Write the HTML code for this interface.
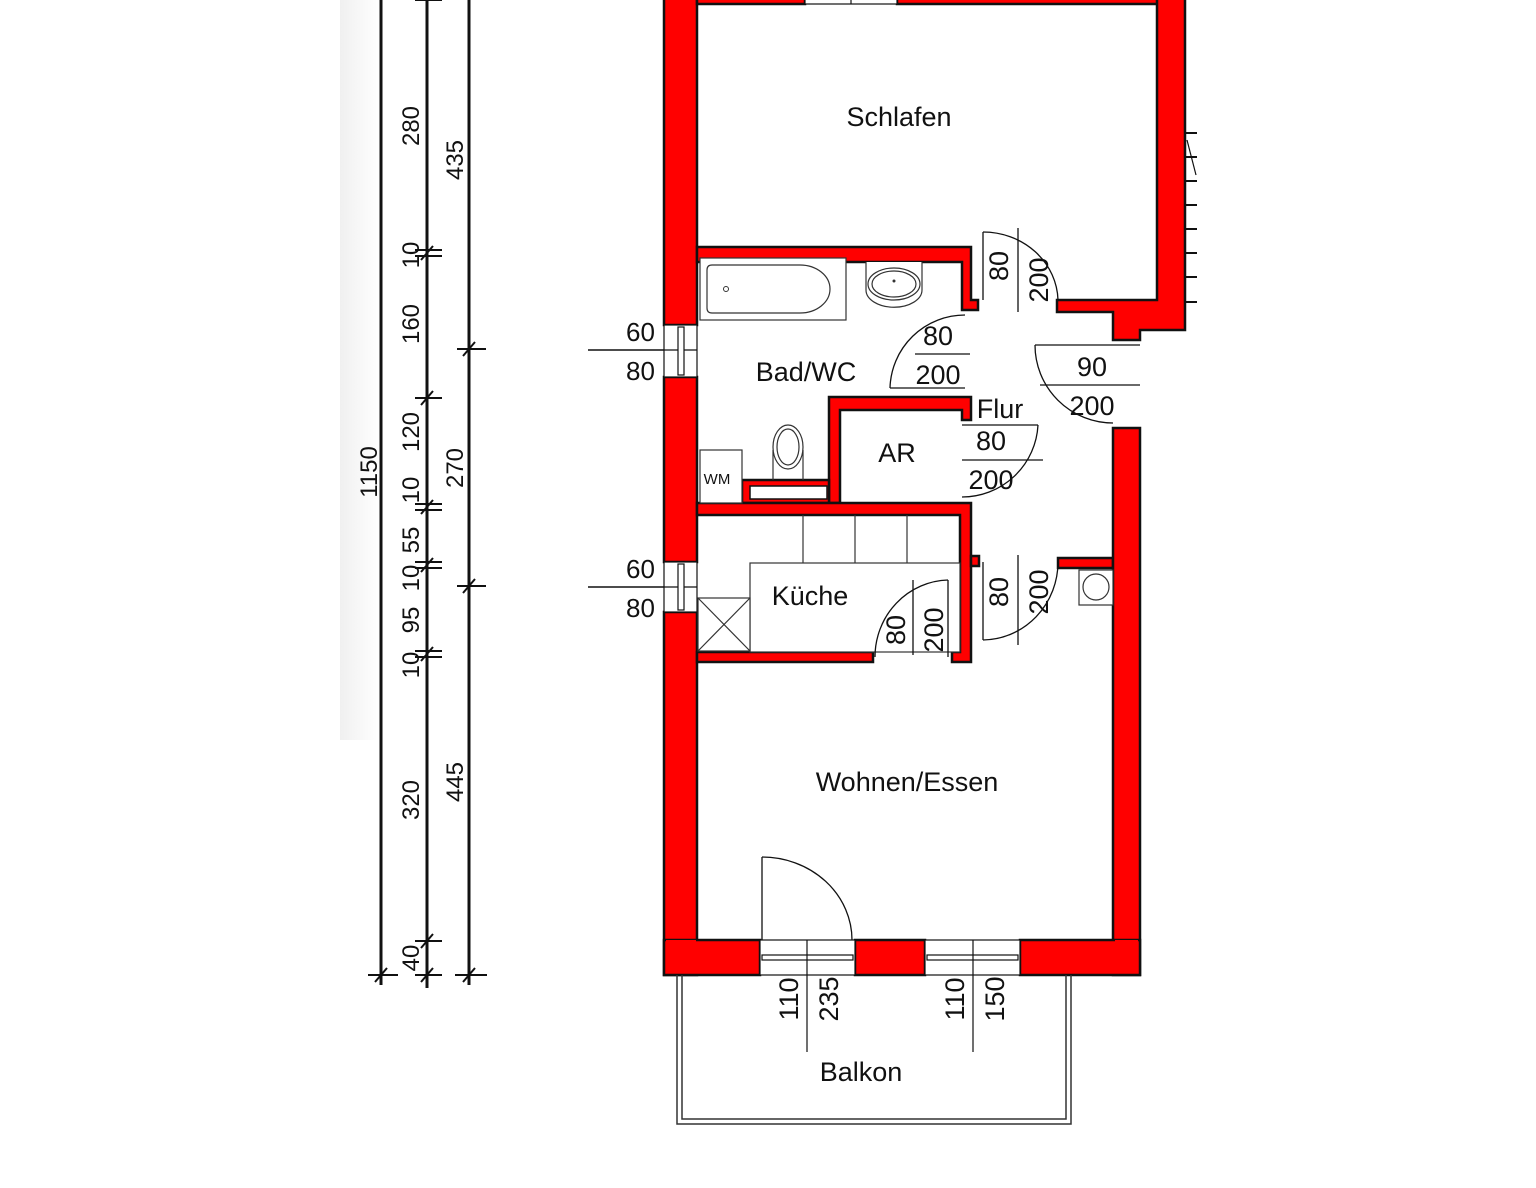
<!DOCTYPE html>
<html><head><meta charset="utf-8"><style>
html,body{margin:0;padding:0;background:#fff;}
svg{display:block;}
text{font-family:"Liberation Sans",sans-serif;fill:#111;}
</style></head><body>
<svg width="1536" height="1188" viewBox="0 0 1536 1188" xmlns="http://www.w3.org/2000/svg">
<defs><linearGradient id="g" x1="0" x2="1" y1="0" y2="0"><stop offset="0" stop-color="#f0f0f0"/><stop offset="1" stop-color="#fff"/></linearGradient></defs>
<rect width="1536" height="1188" fill="#fff"/>
<rect x="340" y="0" width="40" height="740" fill="url(#g)"/>

<!-- dimension lines -->
<g stroke="#111" stroke-width="3" fill="none">
<line x1="381" y1="0" x2="381" y2="985"/>
<line x1="427" y1="0" x2="427" y2="988"/>
<line x1="469" y1="0" x2="469" y2="985"/>
</g>
<g stroke="#111" stroke-width="2">
<line x1="368" y1="975" x2="398" y2="975"/><line x1="375" y1="982" x2="387" y2="968"/>
<line x1="455" y1="975" x2="487" y2="975"/><line x1="463" y1="982" x2="475" y2="968"/>
<line x1="415" y1="975" x2="442" y2="975"/><line x1="421" y1="982" x2="433" y2="968"/>
<line x1="415" y1="941" x2="442" y2="941"/><line x1="421" y1="948" x2="433" y2="934"/>
<line x1="415" y1="0" x2="442" y2="0"/>
<line x1="415" y1="250" x2="442" y2="250"/><line x1="415" y1="256" x2="442" y2="256"/><line x1="421" y1="260" x2="433" y2="246"/>
<line x1="415" y1="398" x2="442" y2="398"/><line x1="421" y1="405" x2="433" y2="391"/>
<line x1="415" y1="504" x2="442" y2="504"/><line x1="415" y1="510" x2="442" y2="510"/><line x1="421" y1="514" x2="433" y2="500"/>
<line x1="415" y1="562" x2="442" y2="562"/><line x1="415" y1="568" x2="442" y2="568"/><line x1="421" y1="572" x2="433" y2="558"/>
<line x1="415" y1="651" x2="442" y2="651"/><line x1="415" y1="657" x2="442" y2="657"/><line x1="421" y1="661" x2="433" y2="647"/>
<line x1="457" y1="349" x2="486" y2="349"/><line x1="463" y1="356" x2="475" y2="342"/>
<line x1="457" y1="586" x2="486" y2="586"/><line x1="463" y1="593" x2="475" y2="579"/>
</g>
<g font-size="24">
<text transform="translate(377,472) rotate(-90)" text-anchor="middle">1150</text>
<text transform="translate(419,126) rotate(-90)" text-anchor="middle">280</text>
<text transform="translate(419,255) rotate(-90)" text-anchor="middle">10</text>
<text transform="translate(419,324) rotate(-90)" text-anchor="middle">160</text>
<text transform="translate(419,432) rotate(-90)" text-anchor="middle">120</text>
<text transform="translate(419,490) rotate(-90)" text-anchor="middle">10</text>
<text transform="translate(419,540) rotate(-90)" text-anchor="middle">55</text>
<text transform="translate(419,578) rotate(-90)" text-anchor="middle">10</text>
<text transform="translate(419,620) rotate(-90)" text-anchor="middle">95</text>
<text transform="translate(419,665) rotate(-90)" text-anchor="middle">10</text>
<text transform="translate(419,800) rotate(-90)" text-anchor="middle">320</text>
<text transform="translate(419,958) rotate(-90)" text-anchor="middle">40</text>
<text transform="translate(463,160) rotate(-90)" text-anchor="middle">435</text>
<text transform="translate(463,468) rotate(-90)" text-anchor="middle">270</text>
<text transform="translate(463,782) rotate(-90)" text-anchor="middle">445</text>
</g>

<!-- left window dims -->
<g stroke="#111" stroke-width="1.5">
<line x1="588" y1="350" x2="665" y2="350"/>
<line x1="588" y1="587" x2="665" y2="587"/>
</g>
<g font-size="26">
<text x="626" y="341">60</text><text x="626" y="380">80</text>
<text x="626" y="578">60</text><text x="626" y="617">80</text>
</g>

<!-- walls -->
<g fill="#ff0000" stroke="#111" stroke-width="2.5">
<rect x="664" y="-5" width="33" height="330"/>
<rect x="664" y="377" width="33" height="185"/>
<rect x="664" y="612" width="33" height="363"/>
<rect x="697" y="-5" width="108" height="9"/>
<rect x="897" y="-5" width="262" height="9"/>
<path d="M1157,-5 L1185,-5 L1185,330 L1140,330 L1140,340 L1113,340 L1113,312 L1057,312 L1057,300 L1157,300 Z"/>
<path d="M697,247 L971,247 L971,300 L978,300 L978,310 L962,310 L962,262 L697,262 Z"/>
<path d="M829,397 L971,397 L971,420 L962,420 L962,410 L840,410 L840,503 L829,503 Z"/>
<path d="M742,480 L829,480 L829,503 L742,503 Z"/>
<path d="M697,503 L971,503 L971,662 L952,662 L952,652 L960,652 L960,515 L697,515 Z"/>
<rect x="697" y="652" width="176" height="10"/>
<rect x="971" y="556" width="8" height="10"/>
<rect x="1058" y="558" width="55" height="10"/>
<rect x="1113" y="428" width="27" height="547"/>
<path d="M664,940 L760,940 L760,975 L664,975 Z"/>
<rect x="855" y="940" width="70" height="35"/>
<rect x="1020" y="940" width="120" height="35"/>
</g>
<rect x="666" y="940" width="30" height="33" fill="#ff0000"/>
<rect x="1115" y="940" width="23" height="33" fill="#ff0000"/>
<rect x="1115" y="305" width="23" height="10" fill="#ff0000"/>
<rect x="1159" y="298" width="24" height="16" fill="#ff0000"/>
<rect x="744" y="484" width="83" height="14" fill="#ff0000"/>
<rect x="750" y="486" width="77" height="13" fill="#fff" stroke="#111" stroke-width="1.5"/>

<!-- windows -->
<g fill="#fff" stroke="#111" stroke-width="1.2">
<rect x="664" y="325" width="33" height="52"/>
<line x1="664" y1="350" x2="697" y2="350"/>
<rect x="678" y="327" width="6" height="48"/>
<rect x="664" y="562" width="33" height="50"/>
<line x1="664" y1="587" x2="697" y2="587"/>
<rect x="678" y="564" width="6" height="46"/>
<rect x="805" y="-5" width="92" height="9"/>
<line x1="851" y1="-5" x2="851" y2="4"/>
<rect x="760" y="940" width="95" height="35"/>
<rect x="762" y="955" width="91" height="5"/>
<line x1="807" y1="940" x2="807" y2="1052"/>
<rect x="925" y="940" width="95" height="35"/>
<rect x="927" y="955" width="91" height="5"/>
<line x1="973" y1="940" x2="973" y2="1052"/>
</g>

<!-- right ticks -->
<g stroke="#111" stroke-width="2">
<line x1="1185" y1="133" x2="1197" y2="133"/><line x1="1185" y1="157" x2="1197" y2="157"/>
<line x1="1185" y1="181" x2="1197" y2="181"/><line x1="1185" y1="205" x2="1197" y2="205"/>
<line x1="1185" y1="229" x2="1197" y2="229"/><line x1="1185" y1="253" x2="1197" y2="253"/>
<line x1="1185" y1="277" x2="1197" y2="277"/><line x1="1185" y1="302" x2="1197" y2="302"/>
</g>
<path d="M1187,140 L1196,175" stroke="#111" stroke-width="1.2" fill="none"/>

<!-- fixtures -->
<g stroke="#333" stroke-width="1.2" fill="#fff">
<rect x="700" y="258" width="146" height="62"/>
<path d="M712,265 L800,265 A30,24 0 0 1 800,313 L712,313 Q707,313 707,308 L707,270 Q707,265 712,265 Z"/>
<path d="M866,262 L866,290 A26,16 0 0 0 922,290 L922,262"/>
<ellipse cx="894" cy="284" rx="26" ry="16"/>
<ellipse cx="894" cy="284" rx="22" ry="13"/>
<ellipse cx="788" cy="447" rx="15" ry="22"/>
<ellipse cx="788" cy="447" rx="11" ry="18"/>
<path d="M773,450 L773,480 M803,450 L803,480" fill="none"/>
<rect x="700" y="450" width="42" height="53"/>
<rect x="750" y="563" width="210" height="89"/>
<line x1="803" y1="515" x2="803" y2="563"/>
<line x1="855" y1="515" x2="855" y2="563"/>
<line x1="907" y1="515" x2="907" y2="563"/>
<rect x="698" y="598" width="52" height="53"/>
<line x1="698" y1="598" x2="750" y2="651"/>
<line x1="750" y1="598" x2="698" y2="651"/>
<rect x="1079" y="570" width="34" height="35"/>
<circle cx="1096" cy="587" r="13"/>
</g>
<circle cx="726" cy="289" r="2.5" fill="none" stroke="#333"/>
<circle cx="894" cy="281" r="1.5" fill="#333"/>

<!-- doors -->
<g stroke="#111" stroke-width="1.3" fill="none">
<line x1="983" y1="232" x2="983" y2="300"/>
<path d="M983,232 A75,70 0 0 1 1058,300"/>
<line x1="1018" y1="228" x2="1018" y2="312"/>
<line x1="890" y1="388" x2="965" y2="388"/>
<path d="M890,388 A75,75 0 0 1 965,315"/>
<line x1="915" y1="354" x2="970" y2="354"/>
<line x1="1035" y1="345" x2="1140" y2="345"/>
<path d="M1035,345 A78,78 0 0 0 1113,423"/>
<line x1="1040" y1="385" x2="1140" y2="385"/>
<line x1="962" y1="425" x2="1038" y2="425"/>
<path d="M1038,425 A76,76 0 0 1 962,497"/>
<line x1="962" y1="460" x2="1043" y2="460"/>
<line x1="983" y1="562" x2="983" y2="640"/>
<path d="M983,640 A76,78 0 0 0 1058,562"/>
<line x1="1018" y1="555" x2="1018" y2="645"/>
<line x1="948" y1="580" x2="948" y2="657"/>
<path d="M948,580 A75,77 0 0 0 875,657"/>
<line x1="913" y1="580" x2="913" y2="655"/>
<line x1="762" y1="857" x2="762" y2="940"/>
<path d="M762,857 A90,83 0 0 1 852,940"/>
</g>

<!-- balcony -->
<g stroke="#333" stroke-width="1.5" fill="none">
<path d="M677,975 L677,1124 L1071,1124 L1071,975"/>
<path d="M682,975 L682,1119 L1066,1119 L1066,975"/>
</g>

<!-- labels -->
<g font-size="27">
<text x="899" y="126" text-anchor="middle">Schlafen</text>
<text x="806" y="381" text-anchor="middle">Bad/WC</text>
<text x="1000" y="418" text-anchor="middle">Flur</text>
<text x="897" y="462" text-anchor="middle">AR</text>
<text x="810" y="605" text-anchor="middle">Küche</text>
<text x="907" y="791" text-anchor="middle">Wohnen/Essen</text>
<text x="861" y="1081" text-anchor="middle">Balkon</text>
</g>
<text x="717" y="484" font-size="15" text-anchor="middle">WM</text>
<g font-size="27">
<text x="938" y="345" text-anchor="middle">80</text>
<text x="938" y="384" text-anchor="middle">200</text>
<text x="1092" y="376" text-anchor="middle">90</text>
<text x="1092" y="415" text-anchor="middle">200</text>
<text x="991" y="450" text-anchor="middle">80</text>
<text x="991" y="489" text-anchor="middle">200</text>
<text transform="translate(1008,266) rotate(-90)" text-anchor="middle">80</text>
<text transform="translate(1048,280) rotate(-90)" text-anchor="middle">200</text>
<text transform="translate(1008,592) rotate(-90)" text-anchor="middle">80</text>
<text transform="translate(1048,592) rotate(-90)" text-anchor="middle">200</text>
<text transform="translate(905,630) rotate(-90)" text-anchor="middle">80</text>
<text transform="translate(943,630) rotate(-90)" text-anchor="middle">200</text>
<text transform="translate(798,999) rotate(-90)" text-anchor="middle">110</text>
<text transform="translate(838,999) rotate(-90)" text-anchor="middle">235</text>
<text transform="translate(964,999) rotate(-90)" text-anchor="middle">110</text>
<text transform="translate(1004,999) rotate(-90)" text-anchor="middle">150</text>
</g>
</svg>
</body></html>
